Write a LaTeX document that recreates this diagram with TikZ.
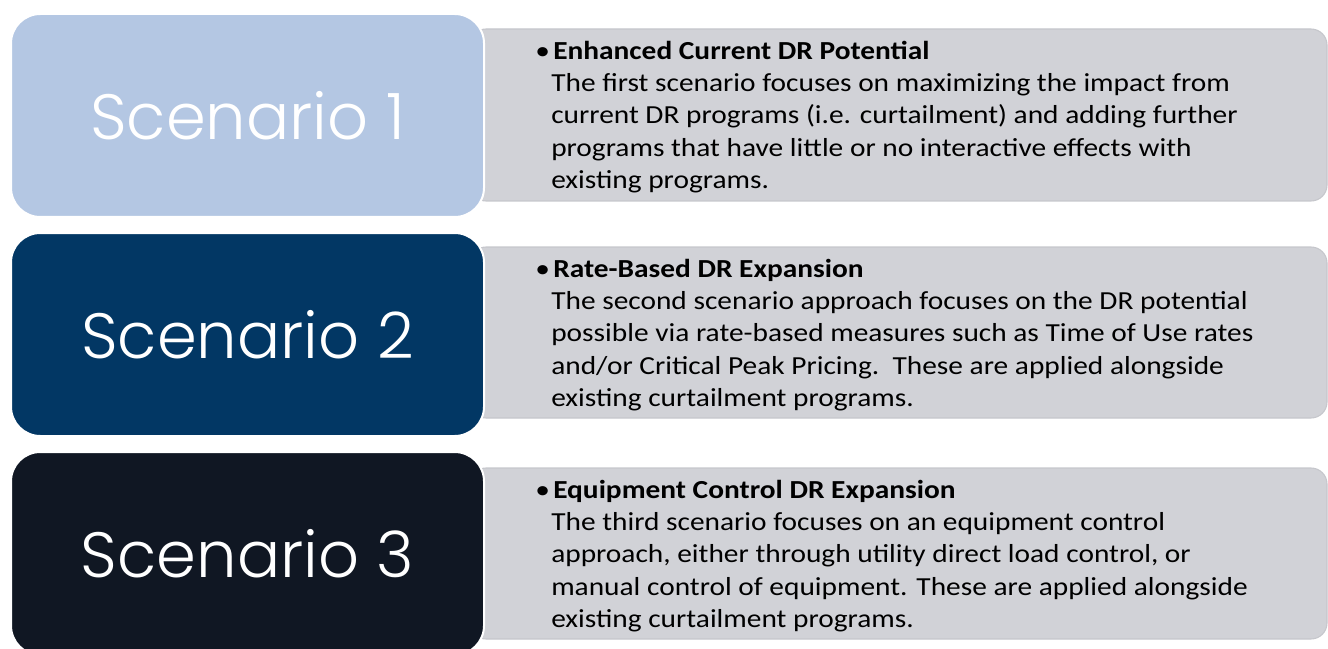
\documentclass[tikz,border=0pt]{standalone}
\usepackage{fontspec}
\setmainfont{Carlito}[FakeStretch=1.13]
\newfontfamily\scenfont{Poppins}[UprightFont=* Light]
\definecolor{boxA}{HTML}{B4C7E3}
\definecolor{boxB}{HTML}{023764}
\definecolor{boxC}{HTML}{101723}
\definecolor{panelfill}{HTML}{D1D2D7}
\definecolor{paneledge}{HTML}{C6C7CC}
\begin{document}
\begin{tikzpicture}[x=0.75pt,y=-0.75pt,
  panel/.style={fill=panelfill,draw=paneledge,line width=0.8pt,rounded corners=12pt},
  scenbox/.style={draw=white,line width=1.5pt,rounded corners=22pt,
    minimum width=354.75pt,minimum height=152.25pt,inner sep=0pt,
    text=white,font=\scenfont\fontsize{48pt}{52pt}\selectfont},
  paneltext/.style={anchor=north west,inner sep=0pt,align=left,text=black,
    font=\fontsize{19.5pt}{24.2pt}\selectfont}
]
\useasboundingbox (0,0) rectangle (1328,649);
% gray panels
\draw[panel] (470,29) rectangle (1327,201);
\draw[panel] (470,247) rectangle (1327,418);
\draw[panel] (470,468) rectangle (1327,639);
% scenario boxes
\node[scenbox,fill=boxA] (s1) at (247.5,115.5) {Scenario 1};
\node[scenbox,fill=boxB] (s2) at (247.5,334.5) {Scenario 2};
\node[scenbox,fill=boxC] (s3) at (247.5,553.5) {Scenario 3};
% panel texts
\node[paneltext] (t1) at (551,39) {\rule{0pt}{15pt}\llap{•\hspace{1pt}}\hspace{1.5pt}\textbf{Enhanced Current DR Potential}\\
The first scenario focuses on maximizing the impact from\\
current DR programs (i.e. curtailment) and adding further\\
programs that have little or no interactive effects with\\
existing programs.};
\node[paneltext] (t2) at (551,257) {\rule{0pt}{15pt}\llap{•\hspace{1pt}}\hspace{1.5pt}\textbf{Rate-Based DR Expansion}\\
The second scenario approach focuses on the DR potential\\
possible via rate-based measures such as Time of Use rates\\
and/or Critical Peak Pricing.\ \ These are applied alongside\\
existing curtailment programs.};
\node[paneltext] (t3) at (551,478) {\rule{0pt}{15pt}\llap{•\hspace{1pt}}\hspace{1.5pt}\textbf{Equipment Control DR Expansion}\\
The third scenario focuses on an equipment control\\
approach, either through utility direct load control, or\\
manual control of equipment. These are applied alongside\\
existing curtailment programs.};
\end{tikzpicture}
\end{document}
